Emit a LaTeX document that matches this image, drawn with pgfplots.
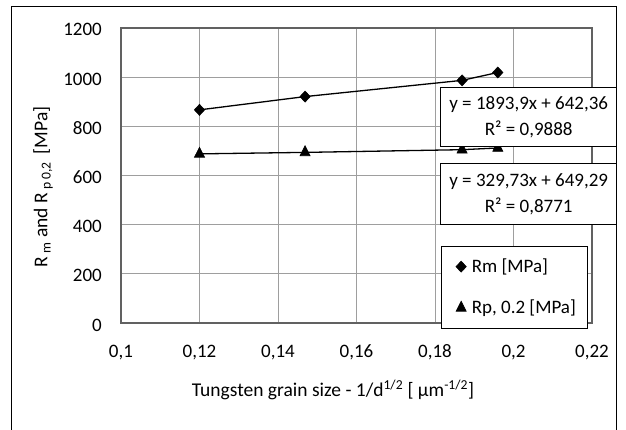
\documentclass[border=0pt]{standalone}
\usepackage{pgfplots}
\pgfplotsset{compat=1.18}
\usepackage{fontspec}
\setmainfont{Carlito}
\newcommand{\ff}{\fontsize{19}{23}\selectfont}
\begin{document}
\begin{tikzpicture}[x=1pt,y=1pt]
\useasboundingbox (0,0) rectangle (626,429);
\draw[black, line width=1pt] (11,-5) -- (11,422) -- (616.7,422) -- (616.7,-5);
\begin{axis}[
  at={(121pt,106pt)}, anchor=south west,
  width=471pt, height=295pt, scale only axis,
  xmin=0.1, xmax=0.22, ymin=0, ymax=1200,
  xtick={0.1,0.12,0.14,0.16,0.18,0.2,0.22},
  xticklabels={{0,1},{0,12},{0,14},{0,16},{0,18},{0,2},{0,22}},
  ytick={0,200,400,600,800,1000,1200},
  yticklabels={0,200,400,600,800,1000,1200},
  major tick length=0pt,
  grid=major,
  grid style={black!38, line width=1pt},
  axis line style={black!62, line width=1.4pt},
  tick label style={font=\ff},
  /pgf/number format/assume math mode=true,
  xticklabel style={anchor=base, yshift=-34pt, inner sep=0pt},
  yticklabel style={anchor=base east, xshift=-19pt, yshift=-8pt, inner sep=0pt},
  label style={font=\fontsize{19.5}{23}\selectfont},
  xlabel={Tungsten grain size - 1/d\textsuperscript{1/2} [ μm\textsuperscript{-1/2}]},
  xlabel style={at={(axis description cs:0.4501,-0.2271)}, anchor=center},
  ylabel={R\,\textsubscript{m} and R\,\textsubscript{p 0,2}\, [MPa]},
  ylabel style={at={(axis description cs:-0.1656,0.461)}, anchor=center, rotate=0},
  legend style={at={(axis description cs:0.6794,-0.0203)}, anchor=south west,
    draw=black, line width=1pt, fill=white, font=\ff,
    inner xsep=12pt, inner ysep=13pt, row sep=26pt,
    nodes={inner sep=0pt}},
  legend cell align=left,
  legend image code/.code={\path (0pt,0pt) (17pt,0pt); \draw[#1] plot coordinates {(7pt,0pt)};},
  clip=false,
]
\addplot[black, line width=1.3pt, mark=diamond*, mark size=5.5pt,
  mark options={xscale=1.25, line width=0.6pt}]
  coordinates {(0.12,867) (0.1469,921) (0.1869,987) (0.196,1019)};
\addlegendentry{Rm [MPa]}
\addplot[black, line width=1.3pt, mark=triangle*, mark size=5.8pt,
  mark options={yscale=1.15, line width=0.6pt}]
  coordinates {(0.12,688) (0.1469,694) (0.1869,705) (0.196,712)};
\addlegendentry{Rp, 0.2 [MPa]}
\end{axis}
\node[draw=black, line width=1pt, fill=white, minimum width=176pt, minimum height=58.7pt,
  align=center, font=\ff, inner sep=0pt] at (528.7,311.7)
  {y = 1893,9x + 642,36\\[3pt] R² = 0,9888};
\node[draw=black, line width=1pt, fill=white, minimum width=176pt, minimum height=60pt,
  align=center, font=\ff, inner sep=0pt] at (528.7,235)
  {y = 329,73x + 649,29\\[3pt] R² = 0,8771};
\end{tikzpicture}
\end{document}
